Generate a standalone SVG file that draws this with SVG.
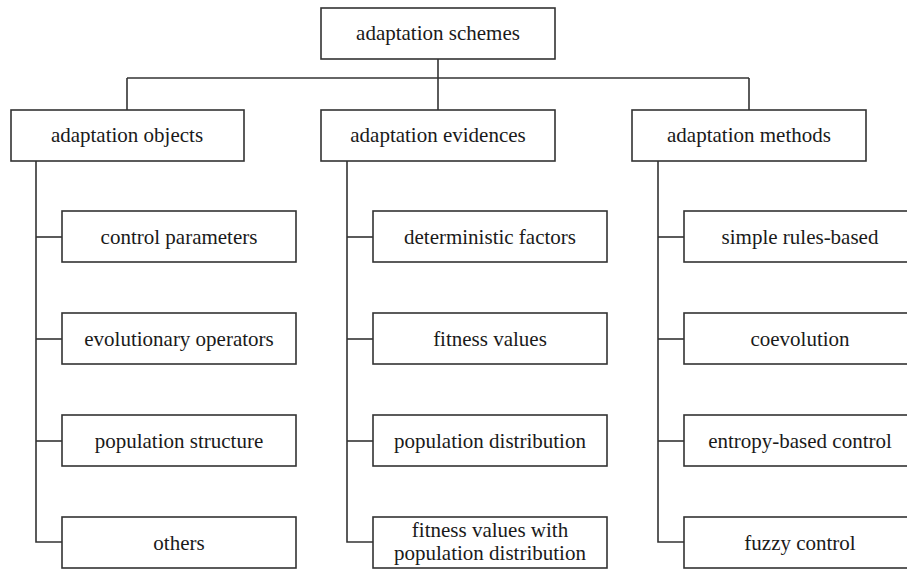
<svg xmlns="http://www.w3.org/2000/svg" width="907" height="569" viewBox="0 0 907 569">
<style>
rect{fill:#fff;stroke:#333;stroke-width:1.6}
.c line,.c polyline{stroke:#333;stroke-width:1.6;fill:none}
text{font-family:'Liberation Serif','Times New Roman',serif;font-size:21px;fill:#1a1a1a;text-anchor:middle}
</style>
<rect x="0" y="0" width="907" height="569" style="stroke:none"/>
<g class="c" id="connectors">
<line x1="438" y1="59" x2="438" y2="110"/>
<line x1="127" y1="78" x2="749" y2="78"/>
<line x1="127" y1="78" x2="127" y2="110"/>
<line x1="749" y1="78" x2="749" y2="110"/>
<polyline points="36,161 36,542 62,542"/>
<line x1="36" y1="237" x2="62" y2="237"/>
<line x1="36" y1="339" x2="62" y2="339"/>
<line x1="36" y1="441" x2="62" y2="441"/>
<polyline points="347,161 347,542 373,542"/>
<line x1="347" y1="237" x2="373" y2="237"/>
<line x1="347" y1="339" x2="373" y2="339"/>
<line x1="347" y1="441" x2="373" y2="441"/>
<polyline points="658,161 658,542 684,542"/>
<line x1="658" y1="237" x2="684" y2="237"/>
<line x1="658" y1="339" x2="684" y2="339"/>
<line x1="658" y1="441" x2="684" y2="441"/>
</g>
<g id="root"><rect x="321" y="8" width="234" height="51"/><text x="438" y="40">adaptation schemes</text></g>
<g id="objects"><rect x="11" y="110" width="233" height="51"/><text x="127" y="142">adaptation objects</text></g>
<g id="evidences"><rect x="321" y="110" width="234" height="51"/><text x="438" y="142">adaptation evidences</text></g>
<g id="methods"><rect x="632" y="110" width="234" height="51"/><text x="749" y="142">adaptation methods</text></g>
<g id="o1"><rect x="62" y="211" width="234" height="51"/><text x="179" y="244">control parameters</text></g>
<g id="o2"><rect x="62" y="313" width="234" height="51"/><text x="179" y="346">evolutionary operators</text></g>
<g id="o3"><rect x="62" y="415" width="234" height="51"/><text x="179" y="448">population structure</text></g>
<g id="o4"><rect x="62" y="517" width="234" height="51"/><text x="179" y="550">others</text></g>
<g id="e1"><rect x="373" y="211" width="234" height="51"/><text x="490" y="244">deterministic factors</text></g>
<g id="e2"><rect x="373" y="313" width="234" height="51"/><text x="490" y="346">fitness values</text></g>
<g id="e3"><rect x="373" y="415" width="234" height="51"/><text x="490" y="448">population distribution</text></g>
<g id="e4"><rect x="373" y="517" width="234" height="51"/><text x="490" y="537">fitness values with</text><text x="490" y="560">population distribution</text></g>
<g id="m1"><rect x="684" y="211" width="234" height="51"/><text x="800" y="244">simple rules-based</text></g>
<g id="m2"><rect x="684" y="313" width="234" height="51"/><text x="800" y="346">coevolution</text></g>
<g id="m3"><rect x="684" y="415" width="234" height="51"/><text x="800" y="448">entropy-based control</text></g>
<g id="m4"><rect x="684" y="517" width="234" height="51"/><text x="800" y="550">fuzzy control</text></g>
</svg>
